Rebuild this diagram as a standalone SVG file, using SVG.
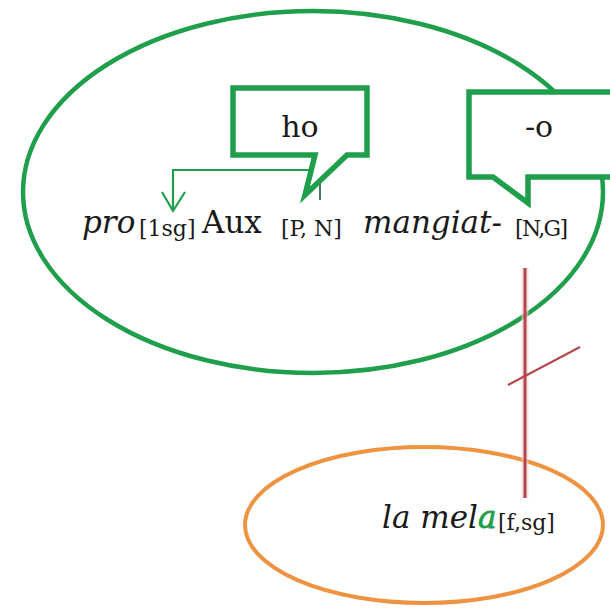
<svg xmlns="http://www.w3.org/2000/svg" width="610" height="609" viewBox="0 0 610 609">
<style>
.g{fill:none;stroke:#1f9e4b}
.call{fill:#fff;stroke:#1f9e4b;stroke-width:5.5;stroke-linejoin:miter}
.t{font-family:"DejaVu Serif","Liberation Serif",serif;fill:#1a1a1a}
.i{font-style:italic}
.big{font-size:31px}
.sub{font-size:22px}
.red{stroke:#b5464d;fill:none}
</style>
<rect width="610" height="609" fill="#fff"/>
<g id="clause">
<ellipse cx="313" cy="192" rx="290" ry="181" class="g" stroke-width="4.5"/>
</g>
<g id="object">
<ellipse cx="424" cy="525" rx="179" ry="78" fill="none" stroke="#ee9441" stroke-width="4"/>
</g>
<g id="connectors">
<path d="M313,170 H173 V210" class="g" stroke-width="2.2"/>
<path d="M162,192 L173,211 L185,192" class="g" stroke-width="2.2"/>
<line x1="320" y1="172" x2="320" y2="200" stroke="#4c7a5c" stroke-width="2"/>
<line x1="525" y1="268" x2="525" y2="498" stroke="#f1d0d2" stroke-width="7" opacity="0.6"/>
<line x1="525" y1="268" x2="525" y2="498" class="red" stroke-width="3"/>
<line x1="508" y1="385" x2="580" y2="347" class="red" stroke-width="2"/>
</g>
<g id="callout-ho">
<path d="M233,88 H367 V155 H347 L305,195 L315,155 H233 Z" class="call"/>
<text x="300" y="137" class="t" font-size="30" text-anchor="middle">ho</text>
</g>
<g id="callout-o">
<path d="M469,92 H625 V177 H528 V203 L493,177 H469 Z" class="call"/>
<text x="539" y="137" class="t" font-size="30" text-anchor="middle">-o</text>
</g>
<g id="sentence">
<text x="82" y="233" class="t i big">pro</text>
<text x="139" y="236" class="t sub">[1sg]</text>
<text x="202" y="233" class="t big">Aux</text>
<text x="281" y="236" class="t sub">[P, N]</text>
<text x="363" y="233" class="t i big">mangiat-</text>
<text x="515" y="236" class="t sub" textLength="53">[N,G]</text>
</g>
<g id="la-mela">
<text x="382" y="528" class="t i" font-size="31">la mel<tspan fill="#1f9e4b" stroke="#1f9e4b" stroke-width="0.8">a</tspan></text>
<text x="498" y="530" class="t" font-size="22">[f,sg]</text>
</g>
</svg>
